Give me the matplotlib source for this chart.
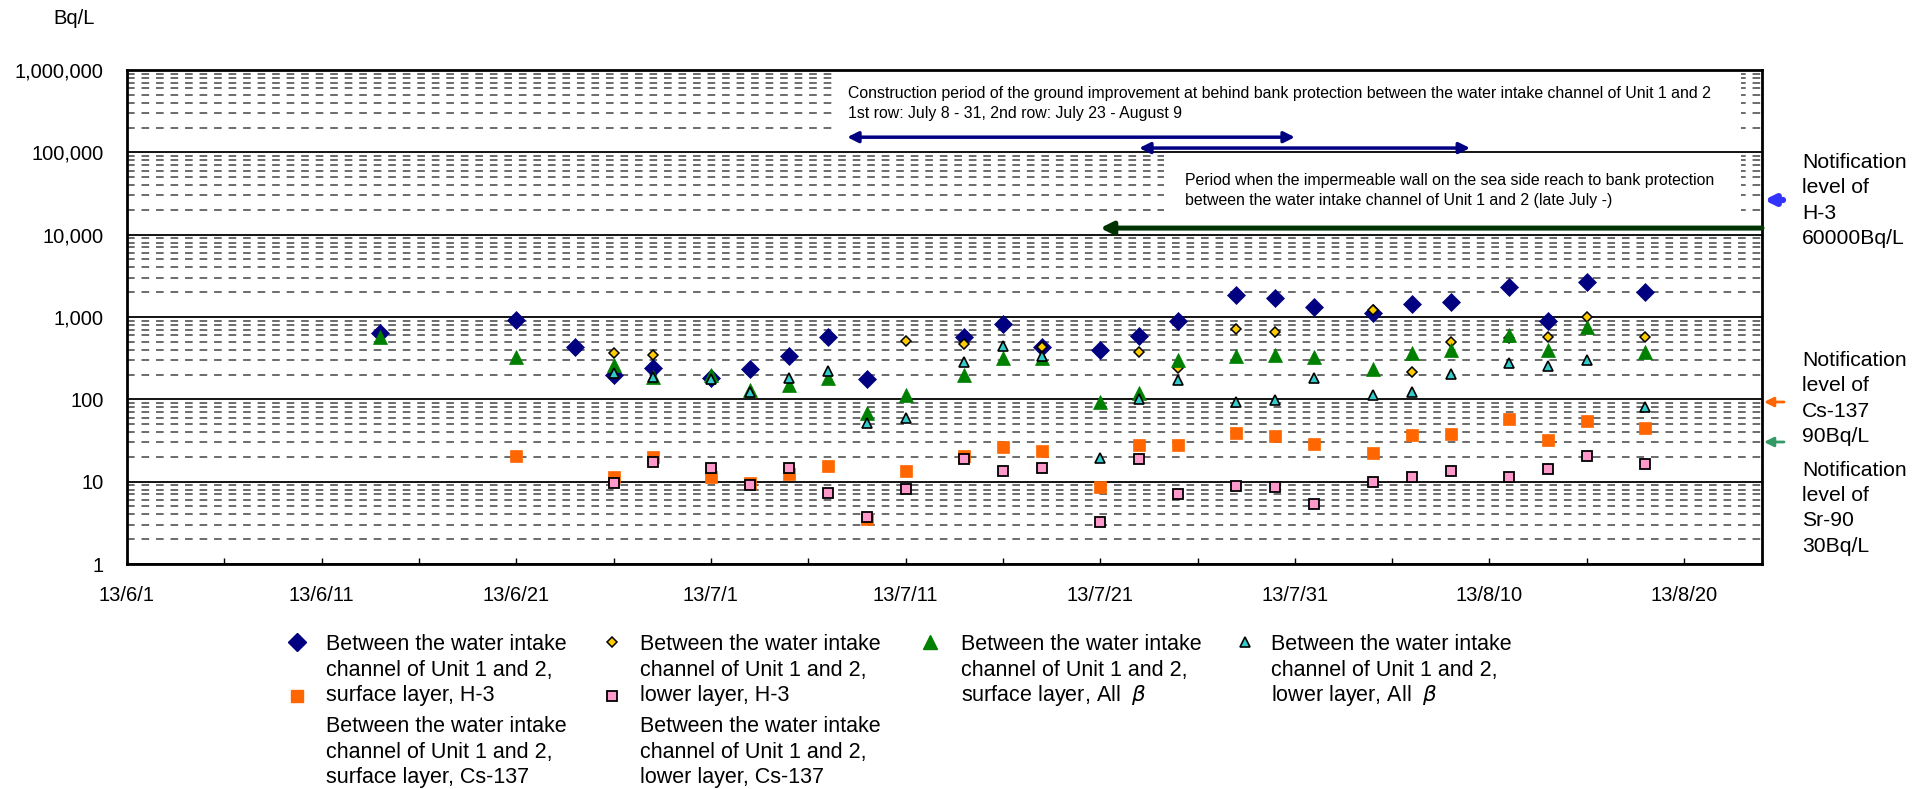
import numpy as np
import matplotlib.pyplot as plt
import matplotlib.dates as mdates
from matplotlib.ticker import FixedLocator, FuncFormatter, LogLocator, NullFormatter
from matplotlib.patches import Rectangle

plt.rcParams['font.family'] = ['Liberation Sans', 'DejaVu Sans']

# sampling dates
dates = ['2013-06-14', '2013-06-21', '2013-06-24', '2013-06-26', '2013-06-28',
         '2013-07-01', '2013-07-03', '2013-07-05', '2013-07-07', '2013-07-09',
         '2013-07-11', '2013-07-14', '2013-07-16', '2013-07-18', '2013-07-21',
         '2013-07-23', '2013-07-25', '2013-07-28', '2013-07-30', '2013-08-01',
         '2013-08-04', '2013-08-06', '2013-08-08', '2013-08-11', '2013-08-13',
         '2013-08-15', '2013-08-18']
nan = np.nan

# Bq/L
surface_h3 = [640, 920, 432, 198, 240, 180, 234, 336, 572, 177, nan, 572, 822, 432,
              397, 588, 894, 1850, 1702, 1324, 1120, 1440, 1522, 2313, 894, 2663, 2013]
lower_h3 = [nan, nan, nan, 365, 346, nan, nan, nan, nan, nan, 511, 470, nan, 430,
            nan, 376, 240, 715, 658, nan, 1217, 215, 497, 550, 572, 1000, 572]
surface_beta = [572, 327, nan, 261, 187, 198, 130, 149, 182, 68, 113, 198, 318, 318,
                93, 119, 300, 336, 346, 327, 234, 365, 397, 604, 397, 756, 376]
lower_beta = [nan, nan, nan, 209, 186, 175, 123, 180, 221, 52, 59, 284, 444, 336,
              19.4, 101, 172, 93, 98, 182, 113, 123, 203, 276, 254, 300, 81]
surface_cs = [nan, 20.5, nan, 11.4, 20, 11.4, 9.6, 12.4, 15.5, 3.5, 13.5, 20.5, 26.4, 23.6,
              8.6, 27.9, 27.9, 39, 35.9, 28.7, 22.3, 36.9, 37.9, 57.7, 32, 54.6, 44.9]
lower_cs = [nan, nan, nan, 9.6, 17.3, 14.7, 9.1, 14.7, 7.3, 3.7, 8.1, 18.9, 13.5, 14.7,
            3.2, 19, 7.1, 8.9, 8.6, 5.4, 9.9, 11.4, 13.5, 11.4, 14.3, 20.5, 16.4]

x_start, x_end = '2013-06-01', '2013-08-24'
major_days = ['2013-06-01', '2013-06-11', '2013-06-21', '2013-07-01', '2013-07-11',
              '2013-07-21', '2013-07-31', '2013-08-10', '2013-08-20']
minor_days = ['2013-06-06', '2013-06-16', '2013-06-26', '2013-07-06', '2013-07-16',
              '2013-07-26', '2013-08-05', '2013-08-15']

x = mdates.datestr2num(dates)

W, H = 1928, 789
fig = plt.figure(figsize=(W / 100, H / 100), dpi=100)
ax = fig.add_axes([127 / W, 1 - 564 / H, 1635 / W, 494 / H])

# series in Excel order
ax.plot(x, surface_h3, 'D', ms=8.7, color='#000080', mec='#000080', mew=0.5, zorder=4)
ax.plot(x, lower_h3, 'D', ms=4.6, color='#FFCC00', mec='black', mew=1.1, zorder=4)
ax.plot(x, surface_beta, '^', ms=10.5, color='#008000', mec='#008000', mew=0.5, zorder=4)
ax.plot(x, lower_beta, '^', ms=6.5, color='#33CCCC', mec='black', mew=1.2, zorder=4)
ax.plot(x, surface_cs, 's', ms=8.8, color='#FF6600', mec='#FF6600', mew=0.5, zorder=4)
ax.plot(x, lower_cs, 's', ms=7.0, color='#FF99CC', mec='black', mew=1.3, zorder=4)

ax.set_yscale('log')
ax.set_ylim(1, 1e6)
ax.set_xlim(mdates.datestr2num(x_start), mdates.datestr2num(x_end))

ax.yaxis.set_major_locator(LogLocator(base=10, numticks=10))
ax.yaxis.set_minor_locator(LogLocator(base=10, subs=np.arange(2, 10), numticks=20))
ax.yaxis.set_major_formatter(FuncFormatter(lambda v, p: f'{int(round(v)):,}'))
ax.yaxis.set_minor_formatter(NullFormatter())
ax.tick_params(axis='y', which='both', length=0, pad=17, labelsize=14.5)

ax.xaxis.set_major_locator(FixedLocator(mdates.datestr2num(major_days)))
ax.xaxis.set_minor_locator(FixedLocator(mdates.datestr2num(minor_days)))
ax.xaxis.set_major_formatter(FuncFormatter(
    lambda v, p: '{}/{}/{}'.format(mdates.num2date(v).year % 100,
                                   mdates.num2date(v).month, mdates.num2date(v).day)))
ax.tick_params(axis='x', which='both', direction='in', length=4.5, width=1,
               pad=16, labelsize=14.5)

ax.set_axisbelow(True)
ax.yaxis.grid(True, which='major', color='black', lw=1.3, ls='-')
ax.yaxis.grid(True, which='minor', color='#444444', lw=1.1, ls=(0, (5, 4.5)))
for s in ax.spines.values():
    s.set_linewidth(2.0)

# white boxes behind the notes
ax.add_patch(Rectangle((0.434, 0.842), 0.553, 0.154, transform=ax.transAxes,
                       facecolor='white', edgecolor='none', zorder=1))
ax.add_patch(Rectangle((0.634, 0.690), 0.353, 0.140, transform=ax.transAxes,
                       facecolor='white', edgecolor='none', zorder=1))

# construction periods
xt = ax.get_xaxis_transform()
d = mdates.datestr2num
ax.annotate('', xy=(d('2013-07-08'), 0.864), xytext=(d('2013-07-31'), 0.864),
            xycoords=xt, textcoords=xt,
            arrowprops=dict(arrowstyle='<|-|>', color='#000080', lw=2.5,
                            mutation_scale=16, shrinkA=0, shrinkB=0), zorder=3)
ax.annotate('', xy=(d('2013-07-23'), 0.842), xytext=(d('2013-08-09'), 0.842),
            xycoords=xt, textcoords=xt,
            arrowprops=dict(arrowstyle='<|-|>', color='#000080', lw=2.5,
                            mutation_scale=16, shrinkA=0, shrinkB=0), zorder=3)
ax.annotate('', xy=(d('2013-07-21'), 0.680), xytext=(d(x_end), 0.680),
            xycoords=xt, textcoords=xt,
            arrowprops=dict(arrowstyle='-|>', color='#003300', lw=3.6,
                            mutation_scale=18, shrinkA=0, shrinkB=0), zorder=3)

# overlay in pixel coordinates for texts and legend
ov = fig.add_axes([0, 0, 1, 1], zorder=5)
ov.set_xlim(0, W)
ov.set_ylim(H, 0)
ov.axis('off')


def put_lines(x0, y0, dy, lines, size=15.5):
    for i, t in enumerate(lines):
        ov.text(x0, y0 + i * dy, t, ha='left', va='center', fontsize=size)


ov.text(74, 18, 'Bq/L', ha='center', va='center', fontsize=14.5)

put_lines(848, 93, 20, ['Construction period of the ground improvement at behind bank protection '
                        'between the water intake channel of Unit 1 and 2',
                        '1st row: July 8 - 31, 2nd row: July 23 - August 9'], size=11.4)
put_lines(1185, 180, 20, ['Period when the impermeable wall on the sea side reach to bank protection',
                          'between the water intake channel of Unit 1 and 2 (late July -)'], size=11.4)

# notification levels
put_lines(1802, 162, 25.5, ['Notification', 'level of', 'H-3', '60000Bq/L'], size=15.2)
put_lines(1802, 360, 25.5, ['Notification', 'level of', 'Cs-137', '90Bq/L'], size=15.2)
put_lines(1802, 470, 25.5, ['Notification', 'level of', 'Sr-90', '30Bq/L'], size=15.2)
ov.annotate('', xy=(1764, 200), xytext=(1783, 200),
            arrowprops=dict(arrowstyle='-|>', color='#3333FF', lw=4.5,
                            mutation_scale=14, shrinkA=0, shrinkB=0))
ov.annotate('', xy=(1764, 402), xytext=(1784, 402),
            arrowprops=dict(arrowstyle='-|>', color='#FF6600', lw=2,
                            mutation_scale=14, shrinkA=0, shrinkB=0))
ov.annotate('', xy=(1764, 442), xytext=(1784, 442),
            arrowprops=dict(arrowstyle='-|>', color='#339966', lw=2,
                            mutation_scale=14, shrinkA=0, shrinkB=0))

# legend
ov.plot(297, 642, 'D', ms=8.7, color='#000080')
ov.plot(297, 696, 's', ms=8.8, color='#FF6600')
ov.plot(612, 642, 'D', ms=4.6, color='#FFCC00', mec='black', mew=1.1)
ov.plot(612, 696, 's', ms=7.0, color='#FF99CC', mec='black', mew=1.3)
ov.plot(930, 642, '^', ms=10.5, color='#008000')
ov.plot(1245, 642, '^', ms=6.5, color='#33CCCC', mec='black', mew=1.2)

put_lines(326, 645, 25.5, ['Between the water intake', 'channel of Unit 1 and 2,', 'surface layer, H-3'])
put_lines(326, 727, 25.5, ['Between the water intake', 'channel of Unit 1 and 2,', 'surface layer, Cs-137'])
put_lines(640, 645, 25.5, ['Between the water intake', 'channel of Unit 1 and 2,', 'lower layer, H-3'])
put_lines(640, 727, 25.5, ['Between the water intake', 'channel of Unit 1 and 2,', 'lower layer, Cs-137'])
put_lines(961, 645, 25.5, ['Between the water intake', 'channel of Unit 1 and 2,', r'surface layer, All  $\beta$'])
put_lines(1271, 645, 25.5, ['Between the water intake', 'channel of Unit 1 and 2,', r'lower layer, All  $\beta$'])

fig.savefig('out.png', dpi=100)
